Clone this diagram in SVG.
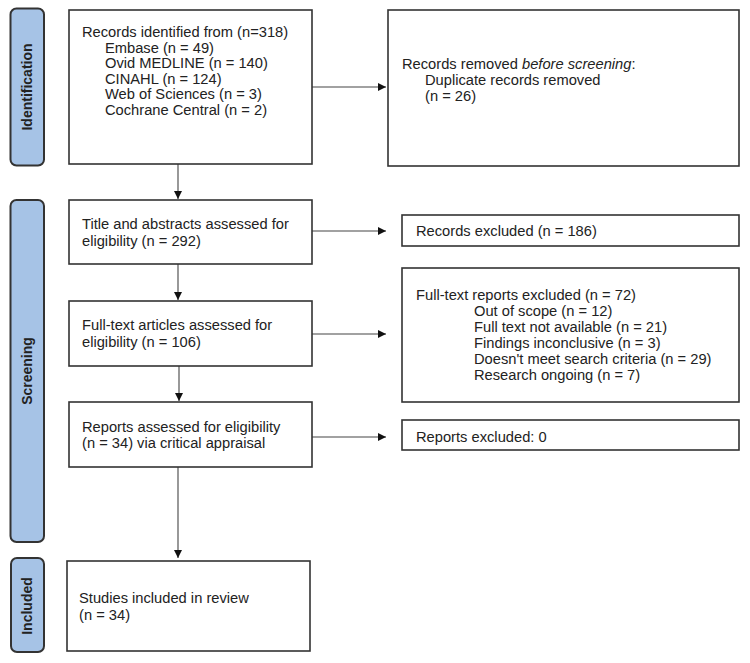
<svg xmlns="http://www.w3.org/2000/svg" width="750" height="663" viewBox="0 0 750 663">
<style>
.bar{fill:#a6c3e6;stroke:#333;stroke-width:2}
.box{fill:#fff;stroke:#333;stroke-width:1.6}
.t{font-family:"Liberation Sans",Arial,sans-serif;font-size:14.7px;fill:#222}
.lbl{font-family:"Liberation Sans",Arial,sans-serif;font-size:14px;font-weight:bold;fill:#222;text-anchor:middle}
.c{stroke:#444;stroke-width:1.1;fill:none;marker-end:url(#ah)}
</style>
<defs>
<marker id="ah" viewBox="0 0 10 10" refX="10" refY="5" markerUnits="userSpaceOnUse" markerWidth="9" markerHeight="8" orient="auto">
<path d="M0,0 L10,5 L0,10 z" fill="#111"/>
</marker>
</defs>
<rect width="750" height="663" fill="#fff"/>
<g id="phase-identification">
<rect class="bar" x="10.5" y="8.5" width="33.5" height="157" rx="6"/>
<text class="lbl" transform="translate(32,87) rotate(-90)">Identification</text>
</g>
<g id="phase-screening">
<rect class="bar" x="10.5" y="200" width="33.5" height="342" rx="6"/>
<text class="lbl" transform="translate(32,371) rotate(-90)">Screening</text>
</g>
<g id="phase-included">
<rect class="bar" x="11" y="558" width="33" height="94" rx="6"/>
<text class="lbl" transform="translate(32,606) rotate(-90)">Included</text>
</g>
<g id="connectors">
<line class="c" x1="312" y1="87" x2="386" y2="87"/>
<line class="c" x1="178" y1="164" x2="178" y2="199"/>
<line class="c" x1="312" y1="231" x2="386" y2="231"/>
<line class="c" x1="178" y1="264" x2="178" y2="300"/>
<line class="c" x1="312" y1="334" x2="386" y2="334"/>
<line class="c" x1="179" y1="366" x2="179" y2="401"/>
<line class="c" x1="312" y1="437" x2="386" y2="437"/>
<line class="c" x1="178" y1="467" x2="178" y2="558"/>
</g>
<g id="identified">
<rect class="box" x="69" y="10" width="243" height="154"/>
<text class="t" x="82" y="37">Records identified from (n=318)</text>
<text class="t" x="105" y="52.5">Embase (n = 49)</text>
<text class="t" x="105" y="68">Ovid MEDLINE (n = 140)</text>
<text class="t" x="105" y="83.5">CINAHL (n = 124)</text>
<text class="t" x="105" y="99">Web of Sciences (n = 3)</text>
<text class="t" x="105" y="114.5">Cochrane Central (n = 2)</text>
</g>
<g id="removed">
<rect class="box" x="388" y="10" width="351" height="156"/>
<text class="t" x="402" y="69">Records removed <tspan font-style="italic">before screening</tspan>:</text>
<text class="t" x="425" y="85">Duplicate records removed</text>
<text class="t" x="425" y="101">(n = 26)</text>
</g>
<g id="title-abstract">
<rect class="box" x="69" y="200" width="243" height="64"/>
<text class="t" x="82" y="229">Title and abstracts assessed for</text>
<text class="t" x="82" y="246">eligibility (n = 292)</text>
</g>
<g id="records-excluded">
<rect class="box" x="402" y="215" width="337" height="31"/>
<text class="t" x="416" y="235.5">Records excluded (n = 186)</text>
</g>
<g id="full-text">
<rect class="box" x="69" y="301" width="243" height="65"/>
<text class="t" x="82" y="330">Full-text articles assessed for</text>
<text class="t" x="82" y="347">eligibility (n = 106)</text>
</g>
<g id="full-text-excluded">
<rect class="box" x="402" y="268" width="337" height="134"/>
<text class="t" x="416" y="300">Full-text reports excluded (n = 72)</text>
<text class="t" x="474" y="316">Out of scope (n = 12)</text>
<text class="t" x="474" y="332">Full text not available (n = 21)</text>
<text class="t" x="474" y="348">Findings inconclusive (n = 3)</text>
<text class="t" x="474" y="364">Doesn't meet search criteria (n = 29)</text>
<text class="t" x="474" y="380">Research ongoing (n = 7)</text>
</g>
<g id="reports-assessed">
<rect class="box" x="69" y="402" width="243" height="65"/>
<text class="t" x="82" y="432">Reports assessed for eligibility</text>
<text class="t" x="82" y="448">(n = 34) via critical appraisal</text>
</g>
<g id="reports-excluded">
<rect class="box" x="402" y="420" width="337" height="30"/>
<text class="t" x="416" y="442">Reports excluded: 0</text>
</g>
<g id="included">
<rect class="box" x="67" y="561" width="243" height="90"/>
<text class="t" x="79" y="603">Studies included in review</text>
<text class="t" x="79" y="620">(n = 34)</text>
</g>
</svg>
